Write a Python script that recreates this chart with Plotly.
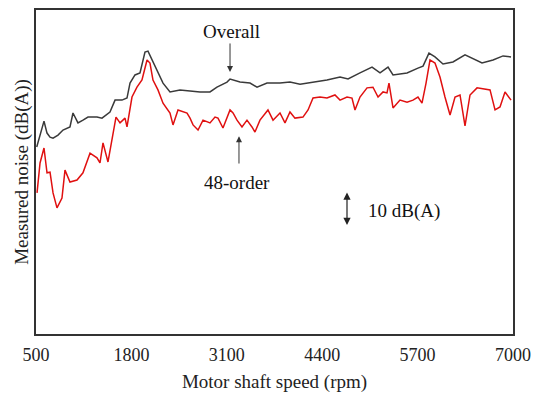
import plotly.graph_objects as go

# Overall noise (black)
overall_rpm = [510, 555, 609, 650, 691, 732, 800, 868, 963, 1004, 1072, 1140, 1209, 1331, 1399, 1508,
               1577, 1672, 1740, 1781, 1849, 1917, 1985, 2026, 2081, 2149, 2231, 2326, 2462, 2599, 2735,
               2871, 2966, 3103, 3144, 3280, 3416, 3512, 3648, 3825, 3961, 4098, 4275, 4465, 4643, 4752,
               4915, 5079, 5188, 5297, 5365, 5556, 5705, 5774, 5855, 5937, 6046, 6182, 6346, 6455, 6578,
               6728, 6864, 6973]
overall_db = [55.0, 58.5, 62.6, 59.1, 57.9, 57.6, 58.5, 60.0, 60.9, 65.0, 62.1, 62.9, 63.8, 63.8, 63.5, 65.3,
              68.8, 68.8, 69.4, 73.8, 76.2, 76.8, 82.9, 83.2, 80.6, 77.6, 73.8, 71.2, 71.8, 71.5, 71.2,
              71.2, 72.6, 74.1, 75.0, 74.1, 73.8, 72.6, 73.8, 73.8, 74.1, 73.5, 74.1, 74.7, 75.6, 75.0,
              76.8, 78.5, 76.8, 78.5, 76.2, 76.8, 78.2, 78.8, 82.6, 81.5, 79.4, 80.0, 82.1, 80.9, 79.7,
              80.6, 81.8, 81.5]

# 48-order noise (red)
order_rpm = [514, 555, 609, 650, 691, 732, 786, 854, 895, 963, 1059, 1140, 1236, 1331, 1372, 1413, 1481,
             1536, 1590, 1645, 1713, 1740, 1808, 1876, 1944, 2013, 2053, 2094, 2162, 2231, 2326, 2367,
             2435, 2558, 2599, 2640, 2708, 2776, 2871, 2939, 2980, 3048, 3144, 3185, 3239, 3307, 3375,
             3443, 3484, 3552, 3661, 3730, 3825, 3893, 3961, 4029, 4138, 4207, 4275, 4370, 4465, 4574,
             4643, 4738, 4806, 4847, 4915, 5011, 5092, 5161, 5229, 5283, 5310, 5365, 5460, 5556, 5637,
             5705, 5760, 5815, 5869, 5937, 6005, 6073, 6142, 6210, 6278, 6346, 6414, 6510, 6646, 6687,
             6755, 6823, 6891, 6973]
order_db = [41.5, 50.3, 54.7, 47.4, 47.6, 41.5, 37.1, 40.0, 48.2, 44.7, 45.3, 47.4, 53.2, 51.8, 50.3, 56.2, 50.6,
            57.1, 63.8, 62.1, 63.5, 60.9, 69.7, 72.6, 74.7, 80.6, 79.7, 74.7, 71.8, 67.9, 65.0, 61.5,
            65.9, 65.0, 63.5, 61.5, 60.0, 62.9, 62.1, 63.8, 63.5, 60.6, 65.9, 65.0, 62.9, 60.9, 62.9,
            60.9, 59.4, 62.9, 65.9, 62.9, 65.0, 62.1, 65.3, 63.5, 63.8, 65.9, 69.4, 69.7, 69.4, 70.3,
            68.8, 69.7, 69.4, 65.9, 69.7, 72.4, 72.6, 69.7, 71.2, 70.9, 73.8, 66.5, 68.8, 68.2, 68.8,
            69.7, 67.9, 73.8, 80.6, 79.7, 75.6, 69.7, 64.4, 69.7, 70.3, 61.2, 70.3, 72.4, 72.1, 71.8,
            65.9, 66.8, 71.2, 68.8]

x_ticks = [500, 1800, 3100, 4400, 5700, 7000]

FONT = "Liberation Serif"

fig = go.Figure()
fig.add_trace(go.Scatter(x=overall_rpm, y=overall_db, mode="lines",
                         line=dict(color="#3a3a3a", width=1.5), showlegend=False))
fig.add_trace(go.Scatter(x=order_rpm, y=order_db, mode="lines",
                         line=dict(color="#e01010", width=1.5), showlegend=False))

ann = []
# Overall label + arrow
ann.append(dict(x=3170, y=89.0, xref="x", yref="y", text="Overall", showarrow=False,
                font=dict(family=FONT, size=19, color="#111")))
ann.append(dict(x=3144, y=77.1, ax=3144, ay=85.9, xref="x", yref="y", axref="x", ayref="y",
                text="", showarrow=True, arrowhead=2, arrowsize=1.2, arrowwidth=1, arrowcolor="#333"))
# 48-order label + arrow
ann.append(dict(x=3239, y=44.7, xref="x", yref="y", text="48-order", showarrow=False,
                font=dict(family=FONT, size=19, color="#111")))
ann.append(dict(x=3266, y=58.2, ax=3266, ay=49.7, xref="x", yref="y", axref="x", ayref="y",
                text="", showarrow=True, arrowhead=2, arrowsize=1.2, arrowwidth=1, arrowcolor="#333"))
# 10 dB(A) scale
ann.append(dict(x=4738, y=41.6, ax=4738, ay=31.6, xref="x", yref="y", axref="x", ayref="y",
                text="", showarrow=True, arrowhead=2, arrowside="end+start", arrowsize=1.2,
                arrowwidth=1.2, arrowcolor="#222"))
ann.append(dict(x=4990, y=36.3, xref="x", yref="y", text="10 dB(A)", showarrow=False,
                xanchor="left", font=dict(family=FONT, size=19, color="#111")))

# page body has an 8px default margin; size the figure to fit inside the window
fig.update_layout(
    width=531, height=385,
    margin=dict(l=28, r=26, t=2, b=59),
    paper_bgcolor="white", plot_bgcolor="white",
    font=dict(family=FONT, size=18, color="#222"),
    annotations=ann,
    xaxis=dict(range=[500, 7000], tickvals=x_ticks, ticktext=[str(v) for v in x_ticks],
               showgrid=False, zeroline=False, showline=True, mirror=True, automargin=False,
               linecolor="#333", linewidth=2, ticks="", tickfont=dict(size=18), ticklabelstandoff=3,
               title=dict(text="Motor shaft speed (rpm)", font=dict(size=19), standoff=11)),
    yaxis=dict(range=[0, 95.3], showticklabels=False, showgrid=False, zeroline=False,
               showline=True, mirror=True, automargin=False, linecolor="#333", linewidth=2, ticks="",
               title=dict(text="Measured noise (dB(A))", font=dict(size=19), standoff=0)),
)

fig.write_html("out.html")
